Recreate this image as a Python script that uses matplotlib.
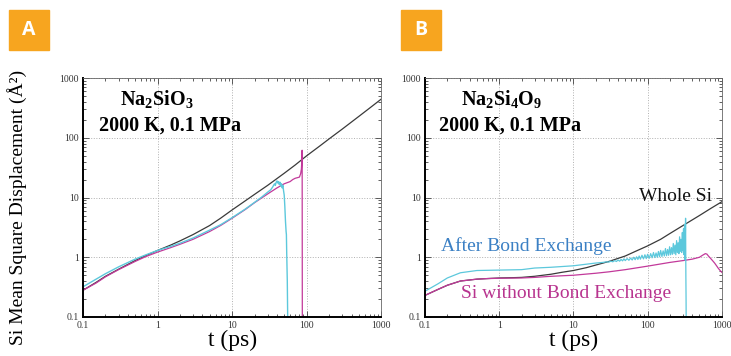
import matplotlib
matplotlib.use('Agg')
import matplotlib.pyplot as plt
from matplotlib.patches import Rectangle
from matplotlib.ticker import LogLocator, NullFormatter, FuncFormatter

plt.rcParams['font.family'] = 'Liberation Serif'
plt.rcParams['mathtext.fontset'] = 'custom'
plt.rcParams['mathtext.rm'] = 'Liberation Serif'
plt.rcParams['mathtext.bf'] = 'Liberation Serif:bold'

# ---- data ----
# panel A : Na2SiO3
a_t_whole = [0.1, 0.15, 0.2, 0.3, 0.5, 0.7, 1, 1.5, 2, 3, 5, 7, 10, 15, 20, 30,
             50, 70, 100, 150, 200, 300, 500, 700, 1000]
a_whole = [0.28, 0.38, 0.48, 0.63, 0.88, 1.07, 1.3, 1.6, 1.88, 2.4, 3.4, 4.5,
           6.2, 8.8, 11.3, 16, 25.5, 35, 50, 73, 96, 140, 228, 315, 445]

a_t_after = [0.1, 0.15, 0.2, 0.3, 0.5, 0.7, 1, 1.5, 2, 3, 5, 7, 10, 15, 20, 25,
             30, 33, 35, 37, 38, 39, 40, 41, 42, 43, 44, 45, 46, 47, 48, 49,
             50, 51, 52, 53, 53.5, 54, 55, 56]
a_after = [0.32, 0.43, 0.53, 0.69, 0.93, 1.1, 1.3, 1.52, 1.72, 2.1, 2.85, 3.5,
           4.6, 6.4, 8.3, 10.2, 12.3, 13.5, 15, 17, 16, 18, 19, 17.5, 18.5,
           16.5, 18, 15.5, 17, 14.5, 16, 13, 11, 7, 4, 2.7, 2.4, 1.2, 0.4,
           0.05]

a_t_without = [0.1, 0.15, 0.2, 0.3, 0.5, 0.7, 1, 1.5, 2, 3, 5, 7, 10, 15, 20,
               30, 40, 50, 60, 65, 70, 75, 80, 83, 85, 86, 87, 87.5]
a_without = [0.28, 0.37, 0.47, 0.62, 0.85, 1.03, 1.22, 1.45, 1.65, 2.0, 2.7,
             3.4, 4.5, 6.3, 8.2, 11.5, 14.5, 17, 18.5, 20, 21, 21.5, 22, 25,
             30, 40, 62, 0.05]

# panel B : Na2Si4O9
b_t_whole = [0.1, 0.15, 0.2, 0.3, 0.5, 0.7, 1, 1.5, 2, 3, 5, 7, 10, 15, 20,
             30, 50, 70, 100, 150, 200, 300, 500, 700, 1000]
b_whole = [0.23, 0.29, 0.34, 0.40, 0.43, 0.44, 0.45, 0.455, 0.46, 0.48, 0.52,
           0.56, 0.6, 0.67, 0.74, 0.85, 1.05, 1.27, 1.55, 2.0, 2.5, 3.4, 5.0,
           6.5, 8.5]

b_t_without = [0.1, 0.15, 0.2, 0.3, 0.5, 0.7, 1, 2, 3, 5, 10, 20, 30, 50, 100,
               200, 300, 400, 500, 550, 600, 630, 660, 700, 750, 800, 850, 900,
               950, 1000]
b_without = [0.23, 0.29, 0.34, 0.40, 0.43, 0.44, 0.445, 0.45, 0.46, 0.48, 0.5,
             0.54, 0.57, 0.62, 0.71, 0.82, 0.88, 0.93, 1.0, 1.08, 1.15, 1.13,
             1.05, 0.97, 0.88, 0.8, 0.72, 0.65, 0.6, 0.56]

b_t_after = [0.1, 0.15, 0.2, 0.3, 0.5, 1, 2, 3, 5, 10, 20, 25, 28, 30, 32, 34,
             36, 38, 40, 42, 44, 46, 48, 50, 53, 56, 59, 62, 65, 68, 71, 74,
             77, 80, 84, 88, 92, 96, 100, 105, 110, 115, 120, 125, 130, 135,
             140, 145, 150, 156, 162, 168, 174, 180, 186, 192, 198, 204, 210,
             216, 222, 228, 234, 240, 246, 252, 258, 264, 270, 276, 282, 288,
             294, 300, 305, 310, 315, 320, 325, 328, 330, 332]
b_after = [0.27, 0.36, 0.45, 0.55, 0.6, 0.61, 0.62, 0.66, 0.68, 0.72, 0.8,
           0.82, 0.84, 0.83, 0.86, 0.84, 0.88, 0.85, 0.9, 0.86, 0.92, 0.87,
           0.94, 0.88, 0.95, 0.89, 0.97, 0.9, 1.0, 0.91, 1.02, 0.92, 1.05,
           0.93, 1.08, 0.94, 1.1, 0.95, 1.12, 0.96, 1.15, 0.98, 1.2, 0.99,
           1.18, 1.0, 1.25, 1.02, 1.3, 1.03, 1.28, 1.05, 1.4, 1.06, 1.35, 1.08,
           1.5, 1.1, 1.45, 1.12, 1.7, 1.15, 1.6, 1.1, 1.9, 1.2, 1.75, 1.15,
           2.2, 1.25, 2.0, 1.2, 2.6, 1.3, 3.0, 1.1, 3.5, 0.9, 4.5, 0.5, 0.2,
           0.05]

c_whole = '#3a3a3a'
c_after = '#5cc8dc'
c_without = '#c2399a'
orange = '#f7a51f'

fig = plt.figure(figsize=(7.31, 3.56), dpi=100)
axA = fig.add_axes([0.1135, 0.1096, 0.408, 0.671])
axB = fig.add_axes([0.5814, 0.1096, 0.406, 0.671])


def fmt(v, pos):
    return '%g' % v


for ax in (axA, axB):
    ax.set_xscale('log')
    ax.set_yscale('log')
    ax.set_xlim(0.1, 1000)
    ax.set_ylim(0.1, 1000)
    ax.xaxis.set_major_locator(LogLocator(base=10, numticks=10))
    ax.yaxis.set_major_locator(LogLocator(base=10, numticks=10))
    ax.xaxis.set_minor_locator(LogLocator(base=10, subs=range(2, 10), numticks=10))
    ax.yaxis.set_minor_locator(LogLocator(base=10, subs=range(2, 10), numticks=10))
    ax.xaxis.set_major_formatter(FuncFormatter(fmt))
    ax.yaxis.set_major_formatter(FuncFormatter(fmt))
    ax.xaxis.set_minor_formatter(NullFormatter())
    ax.yaxis.set_minor_formatter(NullFormatter())
    ax.tick_params(which='both', direction='in', top=True, right=True,
                   labelsize=7, pad=3, width=0.6, color='#444444',
                   labelcolor='#333333')
    ax.tick_params(which='major', length=4)
    ax.tick_params(which='minor', length=2)
    ax.grid(True, which='major', linestyle=':', color='#b0b0b0', linewidth=0.7)
    ax.spines['left'].set_linewidth(1.4)
    ax.spines['bottom'].set_linewidth(1.4)
    ax.spines['top'].set_linewidth(0.6)
    ax.spines['right'].set_linewidth(0.6)
    ax.spines['top'].set_color('#666666')
    ax.spines['right'].set_color('#666666')
    ax.set_xlabel('t (ps)', fontsize=17, labelpad=0)

# panel A
axA.plot(a_t_whole, a_whole, color=c_whole, lw=0.9)
axA.plot(a_t_without, a_without, color=c_without, lw=0.9)
axA.plot(a_t_after, a_after, color=c_after, lw=1.0)
axA.text(0.248, 0.908, r'Na$_\mathbf{2}$SiO$_\mathbf{3}$', transform=axA.transAxes,
         fontsize=14.5, fontweight='bold', ha='center', va='center')
axA.text(0.292, 0.803, '2000 K, 0.1 MPa', transform=axA.transAxes,
         fontsize=14.5, fontweight='bold', ha='center', va='center')

# panel B
axB.plot(b_t_whole, b_whole, color=c_whole, lw=0.9)
axB.plot(b_t_without, b_without, color=c_without, lw=0.9)
axB.plot(b_t_after, b_after, color=c_after, lw=0.9)
axB.text(0.259, 0.908, r'Na$_\mathbf{2}$Si$_\mathbf{4}$O$_\mathbf{9}$', transform=axB.transAxes,
         fontsize=14.5, fontweight='bold', ha='center', va='center')
axB.text(0.286, 0.803, '2000 K, 0.1 MPa', transform=axB.transAxes,
         fontsize=14.5, fontweight='bold', ha='center', va='center')
axB.text(0.843, 0.505, 'Whole Si', transform=axB.transAxes, fontsize=14,
         color='#111111', ha='center', va='center')
axB.text(0.342, 0.295, 'After Bond Exchange', transform=axB.transAxes, fontsize=14,
         color='#3b80c4', ha='center', va='center')
axB.text(0.475, 0.10, 'Si without Bond Exchange', transform=axB.transAxes, fontsize=14,
         color='#b8348f', ha='center', va='center')

fig.text(17 / 731, 0.418, 'Si Mean Square Displacement (Å²)', rotation=90,
         fontsize=14, ha='center', va='center')

# panel badges
for x0, letter in ((9, 'A'), (401, 'B')):
    fig.patches.append(Rectangle((x0 / 731, 1 - 50 / 356), 40 / 731, 40 / 356,
                                 transform=fig.transFigure, color=orange))
    fig.text((x0 + 20) / 731, 1 - 30 / 356, letter, color='white',
             fontsize=14, fontweight='bold', family='Open Sans',
             ha='center', va='center')

fig.savefig('out.png', dpi=100)
